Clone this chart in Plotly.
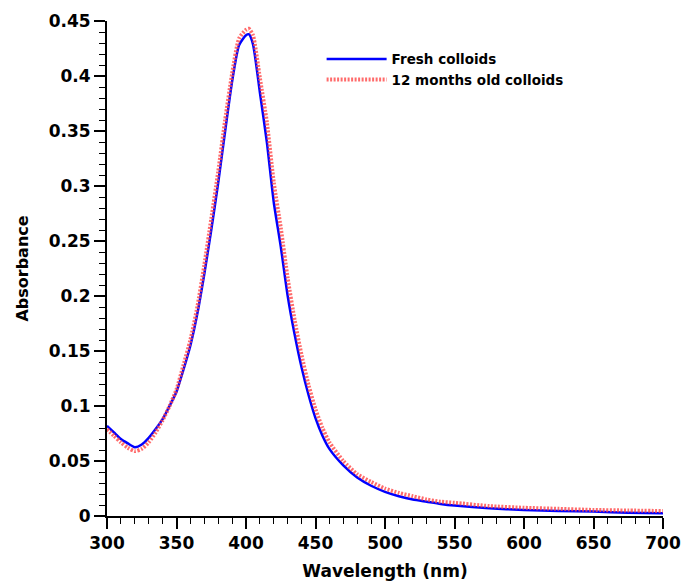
import plotly.graph_objects as go

wavelength_fresh = [300, 305, 310, 315, 320, 325, 330, 335, 340, 345, 350, 355, 360, 365, 370, 375,
                    380, 385, 390, 395, 400, 402, 405, 410, 415, 420, 425, 430, 435, 440, 445, 450,
                    455, 460, 470, 480, 490, 500, 510, 520, 530, 540, 550, 575, 600, 625, 650, 675, 700]
abs_fresh = [0.082, 0.076, 0.070, 0.066, 0.0625, 0.065, 0.071, 0.079, 0.088, 0.100, 0.113, 0.133,
             0.155, 0.184, 0.220, 0.260, 0.303, 0.350, 0.395, 0.428, 0.437, 0.438, 0.429, 0.385,
             0.340, 0.285, 0.245, 0.200, 0.165, 0.135, 0.110, 0.089, 0.073, 0.061, 0.046, 0.035,
             0.0275, 0.022, 0.018, 0.015, 0.013, 0.011, 0.0095, 0.007, 0.0055, 0.0045, 0.004,
             0.003, 0.0025]

wavelength_old = [300, 305, 310, 315, 320, 325, 330, 335, 340, 345, 350, 355, 360, 365, 370, 375,
                  380, 385, 390, 395, 400, 402, 405, 410, 415, 420, 425, 430, 435, 440, 445, 450,
                  455, 460, 470, 480, 490, 500, 510, 520, 530, 540, 550, 575, 600, 625, 650, 675, 700]
abs_old = [0.079, 0.073, 0.067, 0.062, 0.059, 0.061, 0.067, 0.076, 0.087, 0.100, 0.115, 0.137,
           0.160, 0.190, 0.228, 0.270, 0.313, 0.360, 0.402, 0.434, 0.442, 0.443, 0.437, 0.398,
           0.358, 0.303, 0.262, 0.216, 0.178, 0.146, 0.119, 0.097, 0.080, 0.067, 0.050, 0.038,
           0.031, 0.025, 0.021, 0.018, 0.015, 0.013, 0.012, 0.009, 0.0075, 0.0065, 0.0055,
           0.005, 0.0045]

x_ticks = [300, 350, 400, 450, 500, 550, 600, 650, 700]
y_ticks = [0, 0.05, 0.1, 0.15, 0.2, 0.25, 0.3, 0.35, 0.4, 0.45]
y_ticktext = ["0", "0.05", "0.1", "0.15", "0.2", "0.25", "0.3", "0.35", "0.4", "0.45"]

FONT = "DejaVu Sans, Arial, sans-serif"

fig = go.Figure()
fig.add_trace(go.Scatter(
    x=wavelength_fresh, y=abs_fresh, mode="lines", name="Fresh colloids",
    line=dict(color="#0000ff", width=2.5, shape="spline", smoothing=0.6),
))
fig.add_trace(go.Scatter(
    x=wavelength_old, y=abs_old, mode="lines", name="12 months old colloids",
    line=dict(color="rgba(255,70,70,0.8)", width=4, dash="2px,1.5px", shape="spline", smoothing=0.6),
))

axis_common = dict(
    showline=True, linecolor="black", linewidth=2, mirror=False,
    ticks="outside", ticklen=11, tickwidth=1.5, tickcolor="black",
    showgrid=False, zeroline=False, automargin=False,
    tickfont=dict(family=FONT, size=17, color="black", weight="bold"),
)

fig.update_xaxes(
    range=[300, 700], tickvals=x_ticks,
    minor=dict(dtick=10, ticks="outside", ticklen=6, tickwidth=1.2, tickcolor="black"),
    title=dict(text="Wavelength (nm)", font=dict(family=FONT, size=17, color="black", weight="bold"), standoff=13),
    **axis_common,
)
fig.update_yaxes(
    range=[0, 0.45], tickvals=y_ticks, ticktext=y_ticktext,
    minor=dict(dtick=0.01, ticks="outside", ticklen=6, tickwidth=1.2, tickcolor="black"),
    title=dict(text="Absorbance", font=dict(family=FONT, size=16, color="black", weight="bold"), standoff=16),
    **axis_common,
)

fig.update_layout(
    width=684, height=582,
    margin=dict(l=107, r=21, t=21, b=66),
    paper_bgcolor="white", plot_bgcolor="white",
    showlegend=True,
    legend=dict(
        x=0.386, y=0.954, xanchor="left", yanchor="top",
        bgcolor="rgba(0,0,0,0)",
        font=dict(family=FONT, size=13.5, color="black", weight="bold"),
        tracegroupgap=0, itemwidth=60,
    ),
)

fig.write_html("out.html")
